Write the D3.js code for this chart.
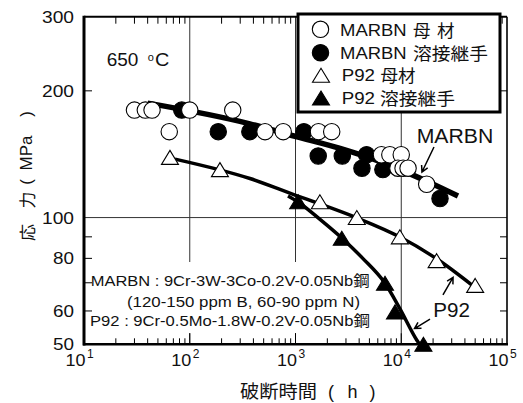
<!DOCTYPE html>
<html><head><meta charset="utf-8">
<script src="https://cdn.jsdelivr.net/npm/d3@7"></script>
<style>body{margin:0;background:#fff} svg{display:block}</style>
</head><body>
<svg id="c" width="523" height="403"></svg>
<script>
// ---------- data (rupture time h, stress MPa) ----------
const xTickExps = [1, 2, 3, 4, 5];
const yTickLabels = [300, 200, 100, 80, 60, 50];
const yMinorTicks = [200, 90, 80, 70, 60];
const xGrid = [100, 1000, 10000];
const yGrid = [100];

const marbnBaseTime   = [30, 38, 44, 100, 255, 64, 515, 765, 1650, 2200, 6500, 7800, 10000, 9300, 10400, 11600, 17400];
const marbnBaseStress = [180, 180, 180, 180, 180, 160, 160, 160, 160, 160, 141, 141, 141, 131, 131, 131, 120];

const marbnWeldTime   = [84, 186, 370, 1200, 1640, 2770, 4700, 4250, 6700, 23250];
const marbnWeldStress = [180, 160, 160, 160, 140, 140, 141, 131, 130, 111];

const p92BaseTime   = [65, 193, 1700, 3800, 9700, 21600, 50000];
const p92BaseStress = [139, 130, 109, 100, 90, 79, 69];

const p92WeldTime   = [1060, 2740, 7020, 8730, 16200];
const p92WeldStress = [109, 89.3, 69.8, 59.7, 50];

const marbnFitTime   = [40, 370, 990, 2640, 5060, 9730, 18700, 34400];
const marbnFitStress = [187, 167, 156, 146, 138.5, 130, 121, 112.5];

const p92BaseFitTime   = [72.5, 371, 989, 1705, 3815, 9730, 21780, 46700];
const p92BaseFitStress = [137.7, 123.8, 113.1, 107.7, 99.8, 89.9, 79.7, 69.1];

const p92WeldFitTime   = [849, 1056, 1705, 2753, 4349, 7020, 9730, 14000, 15600];
const p92WeldFitStress = [112.5, 108.9, 99.0, 89.3, 79.9, 69.8, 60.7, 51.2, 49.2];

// annotation arrows: [tailTime, tailStress, headTime, headStress]
const arrowMarbn = [20400, 147.1, 15700, 128.3];
const arrowP92a  = [24800, 65.5, 30900, 72.1];
const arrowP92b  = [18700, 57.4, 13350, 54.5];

const legendLabels = [
  {latin: "MARBN", cjk: ["母", "材"], sym: "circle", fill: "#fff"},
  {latin: "MARBN", cjk: ["溶接継手"], sym: "circle", fill: "#000"},
  {latin: "P92", cjk: ["母材"], sym: "tri", fill: "#fff"},
  {latin: "P92", cjk: ["溶接継手"], sym: "tri", fill: "#000"}
];

// ---------- setup ----------
const svg = d3.select("#c");
const x = d3.scaleLog().domain([10, 1e5]).range([84, 507]);
const y = d3.scaleLog().domain([50, 300]).range([344.3, 16.7]);
const LAT = "'Liberation Sans', Arial, Helvetica, 'Noto Sans CJK JP', sans-serif";
const CJK = "'Noto Sans CJK JP', sans-serif";
const INK = "#111";

function label(str, px, py, o = {}) {
  const t = svg.append("text").attr("x", px).attr("y", py)
    .attr("font-family", o.family || LAT).attr("font-size", o.size || 17)
    .attr("text-anchor", o.anchor || "start").attr("fill", INK).text(str);
  if (o.len) t.attr("textLength", o.len).attr("lengthAdjust", "spacingAndGlyphs");
  if (o.baseline) t.attr("dominant-baseline", o.baseline);
  return t;
}

const X0 = x.range()[0], X1 = x.range()[1], Y0 = y.range()[0], Y1 = y.range()[1];

svg.append("clipPath").attr("id", "clip").append("rect")
  .attr("x", X0).attr("y", Y1).attr("width", X1 - X0).attr("height", Y0 - Y1);

// gridlines
svg.append("g").selectAll("line").data(xGrid).join("line")
  .attr("x1", d => x(d)).attr("x2", d => x(d)).attr("y1", Y1).attr("y2", Y0)
  .attr("stroke", "#333").attr("stroke-width", 1);
svg.append("g").selectAll("line").data(yGrid).join("line")
  .attr("x1", X0).attr("x2", X1).attr("y1", d => y(d)).attr("y2", d => y(d))
  .attr("stroke", "#333").attr("stroke-width", 1);

// annotation box (white background for composition text)
svg.append("rect").attr("x", 92).attr("y", 262).attr("width", 282).attr("height", 71).attr("fill", "#fff");
label("MARBN : 9Cr-3W-3Co-0.2V-0.05Nb鋼", 90.7, 286, {size: 15, len: 279});
label("(120-150 ppm B, 60-90 ppm N)", 127, 306.5, {size: 15, len: 233});
label("P92 : 9Cr-0.5Mo-1.8W-0.2V-0.05Nb鋼", 90, 325.7, {size: 15, len: 280});

// fit lines
const plot = svg.append("g").attr("clip-path", "url(#clip)");
const line = d3.line().x(d => x(d[0])).y(d => y(d[1])).curve(d3.curveMonotoneX);
function fit(ts, ss, w) {
  plot.append("path").datum(ts.map((t, i) => [t, ss[i]])).attr("d", line)
    .attr("fill", "none").attr("stroke", "#000").attr("stroke-width", w);
}
fit(marbnFitTime, marbnFitStress, 5.5);
fit(p92BaseFitTime, p92BaseFitStress, 3.5);
fit(p92WeldFitTime, p92WeldFitStress, 3.5);

// markers
const TW = 17, TH = 14;
const triPath = `M0,${-TH/2}L${TW/2},${TH/2}L${-TW/2},${TH/2}Z`;
function tris(ts, ss, fill) {
  svg.append("g").selectAll("path").data(ts.map((t, i) => [t, ss[i]])).join("path")
    .attr("d", triPath).attr("transform", d => `translate(${x(d[0])},${y(d[1])})`)
    .attr("fill", fill).attr("stroke", "#000").attr("stroke-width", 1.1);
}
function circs(ts, ss, fill) {
  svg.append("g").selectAll("circle").data(ts.map((t, i) => [t, ss[i]])).join("circle")
    .attr("cx", d => x(d[0])).attr("cy", d => y(d[1])).attr("r", 8.2)
    .attr("fill", fill).attr("stroke", "#000").attr("stroke-width", 1.1);
}
tris(p92WeldTime, p92WeldStress, "#000");
tris(p92BaseTime, p92BaseStress, "#fff");
circs(marbnWeldTime, marbnWeldStress, "#000");
circs(marbnBaseTime, marbnBaseStress, "#fff");

// frame
svg.append("line").attr("x1", X0).attr("x2", X1).attr("y1", Y1).attr("y2", Y1).attr("stroke", "#000").attr("stroke-width", 2);
svg.append("line").attr("x1", X1).attr("x2", X1).attr("y1", Y1).attr("y2", Y0).attr("stroke", "#000").attr("stroke-width", 1.6);
svg.append("line").attr("x1", X0 - 1).attr("x2", X1 + 1).attr("y1", Y0).attr("y2", Y0).attr("stroke", "#000").attr("stroke-width", 2.6);
svg.append("line").attr("x1", X0).attr("x2", X0).attr("y1", Y1 - 1).attr("y2", Y0 + 1.3).attr("stroke", "#000").attr("stroke-width", 3);

// x minor ticks (top and bottom, inward)
const xMinor = [];
for (let e = 1; e < 5; e++) for (let k = 2; k <= 9; k++) xMinor.push(k * Math.pow(10, e));
svg.append("g").selectAll("line").data(xMinor).join("line")
  .attr("x1", d => x(d)).attr("x2", d => x(d)).attr("y1", Y0).attr("y2", Y0 - 6)
  .attr("stroke", "#000").attr("stroke-width", 1);
svg.append("g").selectAll("line").data(xMinor).join("line")
  .attr("x1", d => x(d)).attr("x2", d => x(d)).attr("y1", Y1).attr("y2", Y1 + 7)
  .attr("stroke", "#000").attr("stroke-width", 1);
svg.append("g").selectAll("line").data(xGrid).join("line")
  .attr("x1", d => x(d)).attr("x2", d => x(d)).attr("y1", Y0).attr("y2", Y0 - 11)
  .attr("stroke", "#000").attr("stroke-width", 1);
// y ticks (left and right, inward)
svg.append("g").selectAll("line").data(yMinorTicks).join("line")
  .attr("x1", X0).attr("x2", X0 + 8).attr("y1", d => y(d)).attr("y2", d => y(d))
  .attr("stroke", "#000").attr("stroke-width", 1);
svg.append("g").selectAll("line").data(yMinorTicks).join("line")
  .attr("x1", X1).attr("x2", X1 - 7).attr("y1", d => y(d)).attr("y2", d => y(d))
  .attr("stroke", "#000").attr("stroke-width", 1);

// tick labels
yTickLabels.forEach(v => {
  label(String(v), 74, y(v) + 6, {size: 17, anchor: "end", len: String(v).length === 3 ? 32 : 21});
});
xTickExps.forEach(e => {
  const px = x(Math.pow(10, e));
  label("10", px + 1.5, 366, {size: 17, anchor: "end", len: 20});
  label(String(e), px + 3, 357.5, {size: 12});
});

// axis titles
label("破断時間", 240, 398, {size: 18.5, family: CJK, len: 77});
label("(", 331, 398, {size: 18, anchor: "middle"});
label("h", 352.5, 398, {size: 18, anchor: "middle"});
label(")", 372.5, 398, {size: 18, anchor: "middle"});

[["応", 232.5, CJK], ["力", 200, CJK], ["(", 182, LAT], ["MPa", 153, LAT], [")", 114, LAT]].forEach(([s, cy, f]) => {
  svg.append("text").attr("transform", `translate(26.5,${cy}) rotate(-90)`)
    .attr("text-anchor", "middle").attr("dominant-baseline", "central")
    .attr("font-family", f).attr("font-size", 17).attr("fill", INK).text(s);
});

// temperature
label("650", 106.7, 66, {size: 18, len: 31.7});
label("o", 147.7, 60.5, {size: 11});
label("C", 155, 66, {size: 18, len: 14.3});

// annotation labels + arrows
label("MARBN", 416.7, 143.3, {size: 20, len: 76.6});
label("P92", 433.3, 316.7, {size: 20, len: 36.7});
function arrow(a) {
  const x1 = x(a[0]), y1 = y(a[1]), x2 = x(a[2]), y2 = y(a[3]);
  const ang = Math.atan2(y2 - y1, x2 - x1), L = 7, sp = 0.5;
  const p = d3.path();
  p.moveTo(x1, y1); p.lineTo(x2, y2);
  p.moveTo(x2 - L * Math.cos(ang - sp), y2 - L * Math.sin(ang - sp));
  p.lineTo(x2, y2);
  p.lineTo(x2 - L * Math.cos(ang + sp), y2 - L * Math.sin(ang + sp));
  svg.append("path").attr("d", p.toString()).attr("fill", "none")
    .attr("stroke", "#000").attr("stroke-width", 1.5);
}
arrow(arrowMarbn); arrow(arrowP92a); arrow(arrowP92b);

// legend
svg.append("rect").attr("x", 298).attr("y", 14).attr("width", 202).attr("height", 98)
  .attr("fill", "#fff").attr("stroke", "#000").attr("stroke-width", 3);
const rowBase = [36, 58.7, 81.3, 103.7];
const rowCy = [29.3, 52.7, 75.3, 98];
legendLabels.forEach((d, i) => {
  if (d.sym === "circle") {
    svg.append("circle").attr("cx", 320.5).attr("cy", rowCy[i]).attr("r", 8.2)
      .attr("fill", d.fill).attr("stroke", "#000").attr("stroke-width", 1.1);
  } else {
    svg.append("path").attr("d", triPath).attr("transform", `translate(321,${rowCy[i]})`)
      .attr("fill", d.fill).attr("stroke", "#000").attr("stroke-width", 1.1);
  }
  if (d.latin === "MARBN") label("MARBN", 340, rowBase[i], {size: 17, len: 66.7});
  else label("P92", 341.7, rowBase[i], {size: 17, len: 33.3});
});
label("母", 413, rowBase[0] + 1, {size: 17.5, family: CJK});
label("材", 437, rowBase[0] + 1, {size: 17.5, family: CJK});
label("溶接継手", 413, rowBase[1] + 1, {size: 17.5, family: CJK, len: 75});
label("母材", 380.5, rowBase[2] + 1, {size: 17.5, family: CJK});
label("溶接継手", 380, rowBase[3] + 1, {size: 17.5, family: CJK, len: 75});
</script>
</body></html>
